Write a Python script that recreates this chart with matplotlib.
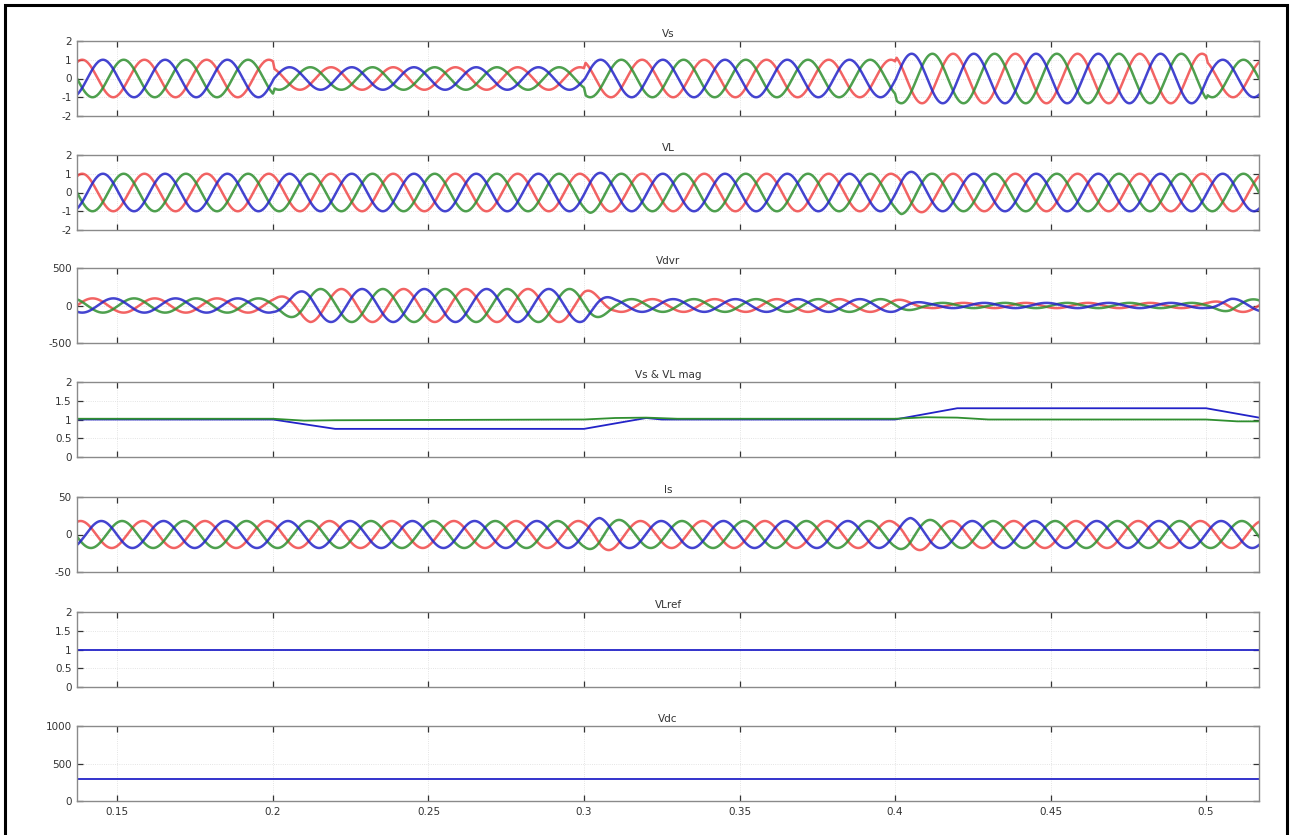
import numpy as np
import matplotlib.pyplot as plt
from matplotlib.patches import Rectangle

# time window and supply frequency
t_start, t_end = 0.137, 0.517
freq = 50.0

# envelope breakpoints (time, amplitude) for each three-phase signal
vs_t = [0.137, 0.2, 0.2005, 0.3, 0.3005, 0.4, 0.4005, 0.5, 0.5005, 0.517]
vs_amp = [1.0, 1.0, 0.6, 0.6, 1.0, 1.0, 1.32, 1.32, 1.0, 1.0]

vl_t = [0.137, 0.3, 0.302, 0.31, 0.4, 0.402, 0.412, 0.5, 0.517]
vl_amp = [1.0, 1.0, 1.08, 1.0, 1.0, 1.15, 1.0, 1.0, 1.0]

vdvr_t = [0.137, 0.2, 0.212, 0.3, 0.31, 0.4, 0.41, 0.5, 0.508, 0.517]
vdvr_amp = [95, 95, 220, 220, 85, 85, 35, 35, 90, 80]

is_t = [0.137, 0.3, 0.305, 0.315, 0.4, 0.405, 0.415, 0.517]
is_amp = [18, 18, 22, 18, 18, 22, 18, 18]

# magnitude traces
mag_vs_t = [0.137, 0.2, 0.22, 0.3, 0.32, 0.325, 0.4, 0.42, 0.5, 0.517]
mag_vs = [1.0, 1.0, 0.75, 0.75, 1.04, 1.0, 1.0, 1.3, 1.3, 1.05]
mag_vl_t = [0.137, 0.2, 0.21, 0.22, 0.3, 0.31, 0.32, 0.33, 0.4, 0.41, 0.42, 0.43, 0.5, 0.51, 0.517]
mag_vl = [1.02, 1.02, 0.97, 0.98, 1.0, 1.04, 1.05, 1.02, 1.02, 1.06, 1.05, 1.0, 1.0, 0.95, 0.95]

vlref_t = [0.137, 0.517]
vlref = [1.0, 1.0]
vdc_t = [0.137, 0.517]
vdc = [300, 300]

# phase angle of the red phase at t_start
vs_phase0 = np.pi / 3
vdvr_phase0 = 0.0
is_phase0 = np.pi / 2.6

red, green, blue = "#f04848", "#2f8f2f", "#2323c8"

t = np.linspace(t_start, t_end, 6000)


def three_phase(env_t, env_a, phase0):
    amp = np.interp(t, env_t, env_a)
    th = 2 * np.pi * freq * (t - t_start) + phase0
    return (amp * np.sin(th),
            amp * np.sin(th - 2 * np.pi / 3),
            amp * np.sin(th + 2 * np.pi / 3))


fig = plt.figure(figsize=(12.9, 8.35), dpi=100)

tops = [41, 155, 268, 382, 497, 612, 726]
height = 75
left, right = 77, 1259
W, H = 1290, 835

titles = ["Vs", "VL", "Vdvr", "Vs & VL mag", "Is", "VLref", "Vdc"]
ylims = [(-2, 2), (-2, 2), (-500, 500), (0, 2), (-50, 50), (0, 2), (0, 1000)]
yticks = [[-2, -1, 0, 1, 2], [-2, -1, 0, 1, 2], [-500, 0, 500],
          [0, 0.5, 1, 1.5, 2], [-50, 0, 50], [0, 0.5, 1, 1.5, 2], [0, 500, 1000]]
xticks = [0.15, 0.2, 0.25, 0.3, 0.35, 0.4, 0.45, 0.5]

axes = []
for i, top in enumerate(tops):
    ax = fig.add_axes([left / W, 1 - (top + height) / H, (right - left) / W, height / H])
    ax.set_xlim(t_start, t_end)
    ax.set_ylim(*ylims[i])
    ax.set_yticks(yticks[i])
    ax.set_yticklabels([f"{v:g}" for v in yticks[i]])
    ax.set_xticks(xticks)
    if i == len(tops) - 1:
        ax.set_xticklabels([f"{v:g}" for v in xticks])
    else:
        ax.set_xticklabels([])
    ax.tick_params(direction="in", top=True, right=True, length=4, width=0.9,
                   labelsize=7.5, colors="#333333", pad=4)
    for s in ax.spines.values():
        s.set_color("#8a8a8a")
        s.set_linewidth(1.0)
    ax.grid(True, linestyle=":", color="#dcdcdc", linewidth=0.6)
    ax.set_title(titles[i], fontsize=7.5, color="#333333", pad=3)
    axes.append(ax)

lw = 1.8
for ax, (env_t, env_a, ph) in zip([axes[0], axes[1], axes[2], axes[4]],
                                   [(vs_t, vs_amp, vs_phase0), (vl_t, vl_amp, vs_phase0),
                                    (vdvr_t, vdvr_amp, vdvr_phase0), (is_t, is_amp, is_phase0)]):
    a, b, c = three_phase(env_t, env_a, ph)
    ax.plot(t, a, color=red, lw=lw, alpha=0.85)
    ax.plot(t, c, color=green, lw=lw, alpha=0.85)
    ax.plot(t, b, color=blue, lw=lw, alpha=0.85)

axes[3].plot(mag_vs_t, mag_vs, color=blue, lw=1.3)
axes[3].plot(mag_vl_t, mag_vl, color=green, lw=1.3)
axes[5].plot(vlref_t, vlref, color=blue, lw=1.3)
axes[6].plot(vdc_t, vdc, color=blue, lw=1.3)

# outer frame
fig.add_artist(Rectangle((5 / W, -0.02), 1282 / W, 1.02 - 5 / H, transform=fig.transFigure,
                         fill=False, edgecolor="black", linewidth=2.2))

fig.savefig("out.png", dpi=100)
